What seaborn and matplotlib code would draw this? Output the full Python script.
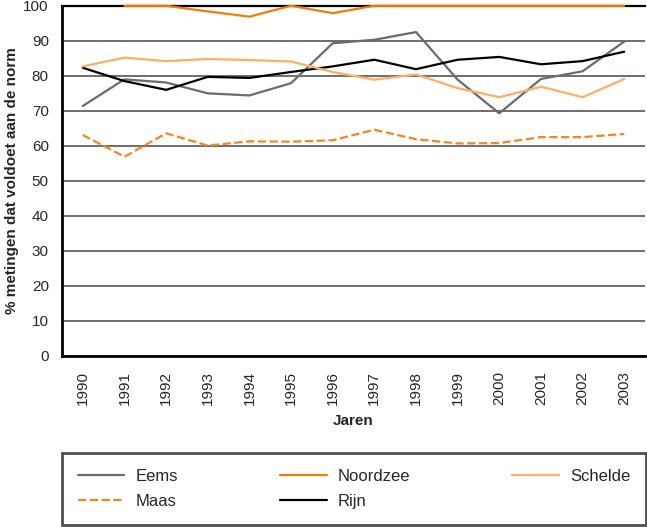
import numpy as np
import pandas as pd
import matplotlib
matplotlib.use("Agg")
import matplotlib.pyplot as plt
import seaborn as sns

# Data
years = ["1990", "1991", "1992", "1993", "1994", "1995", "1996",
         "1997", "1998", "1999", "2000", "2001", "2002", "2003"]
eems = [71.4, 79.0, 78.1, 75.0, 74.4, 77.9, 89.3, 90.3, 92.5, 78.9, 69.3, 79.1, 81.3, 89.8]
noordzee = [np.nan, 100, 100, 98.4, 96.9, 100, 97.9, 100, 100, 100, 100, 100, 100, 100]
schelde = [82.7, 85.2, 84.2, 84.8, 84.5, 84.1, 81.1, 78.9, 80.4, 76.5, 73.9, 76.9, 73.9, 79.1]
maas = [63.1, 56.9, 63.6, 60.1, 61.3, 61.2, 61.6, 64.6, 61.9, 60.7, 60.8, 62.5, 62.5, 63.4]
rijn = [82.3, 78.5, 76.0, 79.7, 79.4, 81.1, 82.7, 84.6, 81.9, 84.6, 85.4, 83.3, 84.2, 86.9]

yticks = list(range(0, 101, 10))

sns.set_style("white")
plt.rcParams['font.family'] = ['Liberation Sans', 'DejaVu Sans']

fig = plt.figure(figsize=(6.47, 5.27), dpi=100)
ax = fig.add_axes([0.0958, 0.3245, 0.9012, 0.6645])

x = np.arange(len(years))
series = [
    ("Eems", eems, "#6b6b6b", "-"),
    ("Maas", maas, "#f7861a", "--"),
    ("Noordzee", noordzee, "#f57c00", "-"),
    ("Rijn", rijn, "#000000", "-"),
    ("Schelde", schelde, "#ffae62", "-"),
]

for name, vals, col, ls in series:
    df = pd.DataFrame({"x": x, "y": vals})
    kw = dict(dashes=(2.2, 1.3)) if ls == "--" else {}
    sns.lineplot(data=df, x="x", y="y", ax=ax, color=col, linewidth=1.6,
                 label=name, linestyle=ls, **kw)

# let the 100% line sit on top of the frame
for line in ax.get_lines():
    line.set_clip_on(False)
    line.set_zorder(4)

ax.set_xlim(-0.5, len(years) - 0.5)
ax.set_ylim(0, 100)
ax.set_yticks(yticks)
ax.set_yticklabels([str(v) for v in yticks], fontsize=11)
ax.yaxis.grid(True, color="#555555", linewidth=1.2)
ax.set_axisbelow(True)

# category boundaries as major ticks, labels at centres
ax.set_xticks(np.arange(-0.5, len(years), 1.0))
ax.set_xticklabels([])
ax.set_xticks(x, minor=True)
ax.set_xticklabels(years, minor=True, rotation=90, fontsize=11)
ax.tick_params(axis="x", which="major", length=7.5, width=1.2, color="#666666", direction="out")
ax.tick_params(axis="x", which="minor", length=0, pad=11)
ax.tick_params(axis="y", length=7.5, width=1.2, color="#222222", direction="out", pad=2)

for side in ["left", "bottom"]:
    ax.spines[side].set_color("black")
    ax.spines[side].set_linewidth(2)
ax.spines["top"].set_color("black")
ax.spines["top"].set_linewidth(1.6)
ax.spines["right"].set_visible(False)

ax.set_xlabel("Jaren", fontsize=11, fontweight="bold", labelpad=6)
ax.set_ylabel("% metingen dat voldoet aan de norm", fontsize=11, fontweight="bold", labelpad=3)

ax.get_legend().remove()
handles, labels = ax.get_legend_handles_labels()
leg = fig.legend(handles, labels, ncol=3, mode="expand",
                 bbox_to_anchor=(62 / 647, 1 - 525 / 527, 584 / 647, 71 / 527),
                 loc="lower left", borderaxespad=0, fontsize=12, frameon=True,
                 fancybox=False, handlelength=2.8, handletextpad=0.65,
                 borderpad=0.95, labelspacing=0.6)
leg.get_frame().set_edgecolor("#222222")
leg.get_frame().set_linewidth(2)

fig.savefig("out.png", dpi=100)
